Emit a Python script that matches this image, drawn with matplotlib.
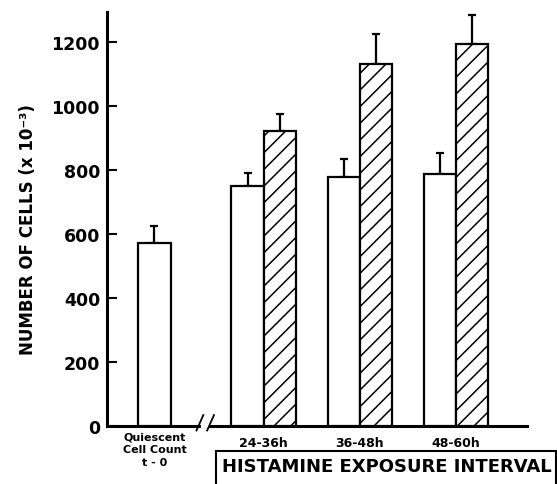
import numpy as np
import matplotlib
matplotlib.use("Agg")
import matplotlib.pyplot as plt
from matplotlib.patches import Rectangle
from matplotlib.transforms import blended_transform_factory

# data (cells x 10^-3)
quiescent_val = 572
quiescent_err = 53
intervals = ["24-36h", "36-48h", "48-60h"]
control_vals = [750, 778, 787]
control_errs = [40, 56, 66]
histamine_vals = [922, 1131, 1194]
histamine_errs = [53, 94, 90]
yticks = [0, 200, 400, 600, 800, 1000, 1200]

plt.rcParams['font.family'] = ['DejaVu Sans']
plt.rcParams['font.weight'] = 'bold'
plt.rcParams['hatch.linewidth'] = 1.1

fig = plt.figure(figsize=(5.57, 4.85), dpi=100)
ax = fig.add_axes([107/557, 58/485, 420/557, 414/485])

q_pos = 1.47
group_pos = np.array([4.85, 7.83, 10.8])
w = 1.0

# quiescent bar
ax.bar(q_pos, quiescent_val, width=w, color="white", edgecolor="black", lw=1.6, zorder=3)
ax.errorbar(q_pos, quiescent_val, yerr=[[0], [quiescent_err]], fmt="none",
            ecolor="black", elinewidth=1.6, capsize=3, capthick=1.6, zorder=2)

# control (white) and histamine (hatched)
ax.bar(group_pos - w/2, control_vals, width=w, color="white", edgecolor="black", lw=1.6, zorder=3)
ax.bar(group_pos + w/2, histamine_vals, width=w, color="white", edgecolor="black",
       hatch="//", lw=1.6, zorder=3)
ax.errorbar(group_pos - w/2, control_vals, yerr=[np.zeros(3), control_errs], fmt="none",
            ecolor="black", elinewidth=1.6, capsize=3, capthick=1.6, zorder=2)
ax.errorbar(group_pos + w/2, histamine_vals, yerr=[np.zeros(3), histamine_errs], fmt="none",
            ecolor="black", elinewidth=1.6, capsize=3, capthick=1.6, zorder=2)

ax.set_xlim(0, 13.0)
ax.set_ylim(0, 1294)
ax.set_yticks(yticks)
ax.set_yticklabels([str(t) for t in yticks], fontsize=12.5, fontweight="bold")
ax.tick_params(axis="y", direction="in", length=7, width=1.5, pad=5)
ax.set_xticks([])
for s in ["top", "right"]:
    ax.spines[s].set_visible(False)
ax.spines["left"].set_linewidth(2.2)
ax.spines["bottom"].set_linewidth(2.2)

# axis break marks
ax.plot([2.98, 3.1], [0, 0], color="white", lw=3, clip_on=False, zorder=5)
ax.plot([2.77, 2.98], [-14, 34], color="black", lw=1.3, clip_on=False, zorder=6)
ax.plot([3.10, 3.31], [-14, 34], color="black", lw=1.3, clip_on=False, zorder=6)

# x labels
tr = blended_transform_factory(ax.transData, fig.transFigure)
fig.text(q_pos, 1 - 432/485, "Quiescent\nCell Count\nt - 0", transform=tr,
         ha="center", va="top", fontsize=8, fontweight="bold", linespacing=1.35)
for x, lab in zip(group_pos, intervals):
    fig.text(x, 1 - 444/485, lab, transform=tr, ha="center", va="center",
             fontsize=9, fontweight="bold")

# boxed interval label
fig.patches.append(Rectangle((216/557, -0.05), (556 - 216)/557, 0.05 + 1 - 452/485,
                             transform=fig.transFigure, fill=False, ec="black", lw=1.5))
fig.text(387/557, 1 - 467/485, "HISTAMINE EXPOSURE INTERVAL", ha="center", va="center",
         fontsize=13, fontweight="bold")

fig.text(28/557, 1 - 230/485, "NUMBER OF CELLS (x 10⁻³)", rotation=90,
         ha="center", va="center", fontsize=12, fontweight="bold")

fig.savefig("out.png", dpi=100)
